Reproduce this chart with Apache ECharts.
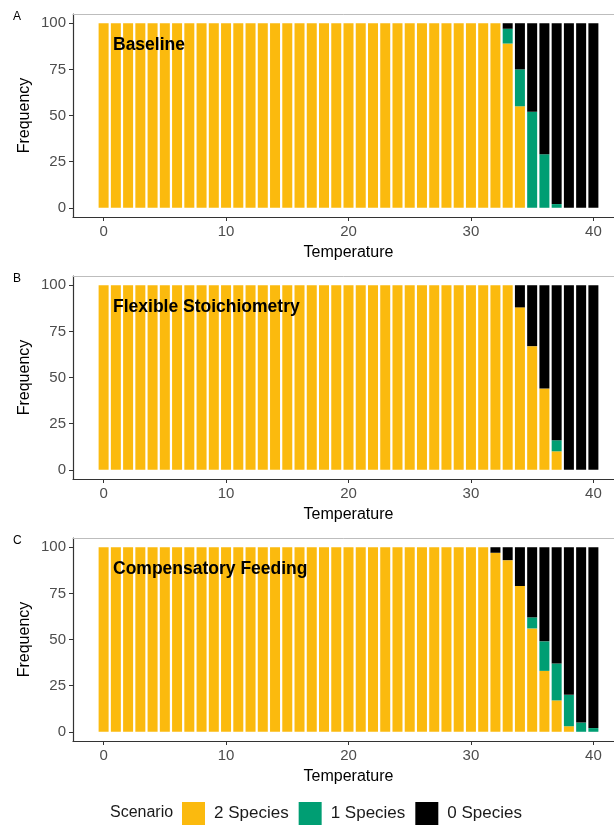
<!DOCTYPE html>
<html>
<head>
<meta charset="utf-8">
<script src="https://cdn.jsdelivr.net/npm/echarts@6/dist/echarts.min.js"></script>
<style>
  html, body { margin: 0; padding: 0; background: #ffffff; }
  #chart { width: 614px; height: 825px; }
</style>
</head>
<body>
<div id="chart"></div>
<script>
// Temperature steps (x) shared by all three scenarios
const temperature = ['0', '1', '2', '3', '4', '5', '6', '7', '8', '9', '10', '11', '12', '13', '14', '15', '16', '17', '18', '19', '20',
  '21', '22', '23', '24', '25', '26', '27', '28', '29', '30', '31', '32', '33', '34', '35', '36', '37', '38', '39', '40'];

// Frequency of each outcome (%) per temperature
const baselineTwo = [100, 100, 100, 100, 100, 100, 100, 100, 100, 100, 100, 100, 100, 100, 100, 100, 100, 100, 100, 100, 100,
  100, 100, 100, 100, 100, 100, 100, 100, 100, 100, 100, 100, 89, 55, 0, 0, 0, 0, 0, 0];
const baselineOne = [0, 0, 0, 0, 0, 0, 0, 0, 0, 0, 0, 0, 0, 0, 0, 0, 0, 0, 0, 0, 0,
  0, 0, 0, 0, 0, 0, 0, 0, 0, 0, 0, 0, 8, 20, 52, 29, 2, 0, 0, 0];
const baselineZero = [0, 0, 0, 0, 0, 0, 0, 0, 0, 0, 0, 0, 0, 0, 0, 0, 0, 0, 0, 0, 0,
  0, 0, 0, 0, 0, 0, 0, 0, 0, 0, 0, 0, 3, 25, 48, 71, 98, 100, 100, 100];

const flexibleTwo = [100, 100, 100, 100, 100, 100, 100, 100, 100, 100, 100, 100, 100, 100, 100, 100, 100, 100, 100, 100, 100,
  100, 100, 100, 100, 100, 100, 100, 100, 100, 100, 100, 100, 100, 88, 67, 44, 10, 0, 0, 0];
const flexibleOne = [0, 0, 0, 0, 0, 0, 0, 0, 0, 0, 0, 0, 0, 0, 0, 0, 0, 0, 0, 0, 0,
  0, 0, 0, 0, 0, 0, 0, 0, 0, 0, 0, 0, 0, 0, 0, 0, 6, 0, 0, 0];
const flexibleZero = [0, 0, 0, 0, 0, 0, 0, 0, 0, 0, 0, 0, 0, 0, 0, 0, 0, 0, 0, 0, 0,
  0, 0, 0, 0, 0, 0, 0, 0, 0, 0, 0, 0, 0, 12, 33, 56, 84, 100, 100, 100];

const compensatoryTwo = [100, 100, 100, 100, 100, 100, 100, 100, 100, 100, 100, 100, 100, 100, 100, 100, 100, 100, 100, 100, 100,
  100, 100, 100, 100, 100, 100, 100, 100, 100, 100, 100, 97, 93, 79, 56, 33, 17, 3, 0, 0];
const compensatoryOne = [0, 0, 0, 0, 0, 0, 0, 0, 0, 0, 0, 0, 0, 0, 0, 0, 0, 0, 0, 0, 0,
  0, 0, 0, 0, 0, 0, 0, 0, 0, 0, 0, 0, 0, 0, 6, 16, 20, 17, 5, 2];
const compensatoryZero = [0, 0, 0, 0, 0, 0, 0, 0, 0, 0, 0, 0, 0, 0, 0, 0, 0, 0, 0, 0, 0,
  0, 0, 0, 0, 0, 0, 0, 0, 0, 0, 0, 3, 7, 21, 38, 51, 63, 80, 95, 98];

const xTickLabels = ['0', '10', '20', '30', '40'];
const yTicks = [0, 25, 50, 75, 100];
const outcomeNames = ['2 Species', '1 Species', '0 Species'];
const outcomeColors = ['#FBBA0E', '#009E73', '#000000'];
const panelTitles = ['Baseline', 'Flexible Stoichiometry', 'Compensatory Feeding'];
const panelLetters = ['A', 'B', 'C'];

const panels = [
  [baselineTwo, baselineOne, baselineZero],
  [flexibleTwo, flexibleOne, flexibleZero],
  [compensatoryTwo, compensatoryOne, compensatoryZero]
];

const panelTops = [14, 276, 538];
const panelHeight = 203;
const FONT = '"Liberation Sans", Arial, sans-serif';

const showTick = (index, value) => xTickLabels.indexOf(value) !== -1;

const grids = [], xAxes = [], yAxes = [], series = [], graphics = [];

panels.forEach((panel, i) => {
  // the panel runs past the right edge of the canvas, as in the printed figure
  grids.push({
    left: 73, width: 551, top: panelTops[i], height: panelHeight,
    containLabel: false, outerBoundsMode: 'none'
  });

  // bottom axis: one band per temperature, padded by empty bands at both ends
  xAxes.push({
    type: 'category', gridIndex: i, position: 'bottom',
    data: temperature,
    min: -2, max: 42,
    boundaryGap: true,
    name: 'Temperature', nameLocation: 'middle', nameGap: 28,
    nameTextStyle: { fontFamily: FONT, fontSize: 16, color: '#000' },
    axisLine: { show: true, onZero: false, lineStyle: { color: '#333333', width: 1.2 } },
    axisTick: { show: true, length: 4, interval: showTick, alignWithLabel: true, lineStyle: { color: '#333333' } },
    axisLabel: { interval: showTick, margin: 7, fontFamily: FONT, fontSize: 15, color: '#4d4d4d' },
    splitLine: { show: false }
  });
  // thin grey rule along the top of the panel
  xAxes.push({
    type: 'value', gridIndex: i, position: 'top',
    min: 0, max: 1,
    axisLine: { show: true, onZero: false, lineStyle: { color: '#bdbdbd', width: 1 } },
    axisTick: { show: false }, axisLabel: { show: false }, splitLine: { show: false }
  });

  yAxes.push({
    type: 'value', gridIndex: i,
    min: -5, max: 105,
    name: 'Frequency', nameLocation: 'middle', nameRotate: 90, nameGap: 40,
    nameMoveOverlap: false,
    nameTextStyle: { fontFamily: FONT, fontSize: 16, color: '#000' },
    axisLine: { show: true, onZero: false, lineStyle: { color: '#333333', width: 1.2 } },
    axisTick: { show: true, length: 4, customValues: yTicks, lineStyle: { color: '#333333' } },
    axisLabel: { customValues: yTicks, margin: 7, fontFamily: FONT, fontSize: 15, color: '#4d4d4d' },
    splitLine: { show: false }
  });

  panel.forEach((values, k) => {
    series.push({
      type: 'bar',
      name: outcomeNames[k],
      xAxisIndex: i * 2,
      yAxisIndex: i,
      stack: 'panel' + i,
      barWidth: 10,
      itemStyle: { color: outcomeColors[k] },
      data: values,
      animation: false
    });
  });

  graphics.push({
    type: 'text', left: 113, top: panelTops[i] + 22, z: 100,
    style: { text: panelTitles[i], fontFamily: FONT, fontSize: 17.5, fontWeight: 'bold', fill: '#000' }
  });
  graphics.push({
    type: 'text', left: 13, top: panelTops[i] - 3, z: 100,
    style: { text: panelLetters[i], fontFamily: FONT, fontSize: 12, fill: '#000' }
  });
});

graphics.push({
  type: 'text', left: 110, top: 805, z: 100,
  style: { text: 'Scenario', fontFamily: FONT, fontSize: 16, fill: '#1a1a1a' }
});

const chart = echarts.init(document.getElementById('chart'), null, { renderer: 'canvas' });
chart.setOption({
  backgroundColor: '#ffffff',
  animation: false,
  grid: grids,
  xAxis: xAxes,
  yAxis: yAxes,
  series: series,
  graphic: graphics,
  legend: {
    data: outcomeNames,
    left: 182, top: 802,
    padding: 0,
    itemWidth: 23, itemHeight: 23, itemGap: 10,
    icon: 'rect',
    selectedMode: false,
    textStyle: { fontFamily: FONT, fontSize: 17, color: '#1a1a1a', padding: [0, 0, 0, 4] }
  }
});
</script>
</body>
</html>
